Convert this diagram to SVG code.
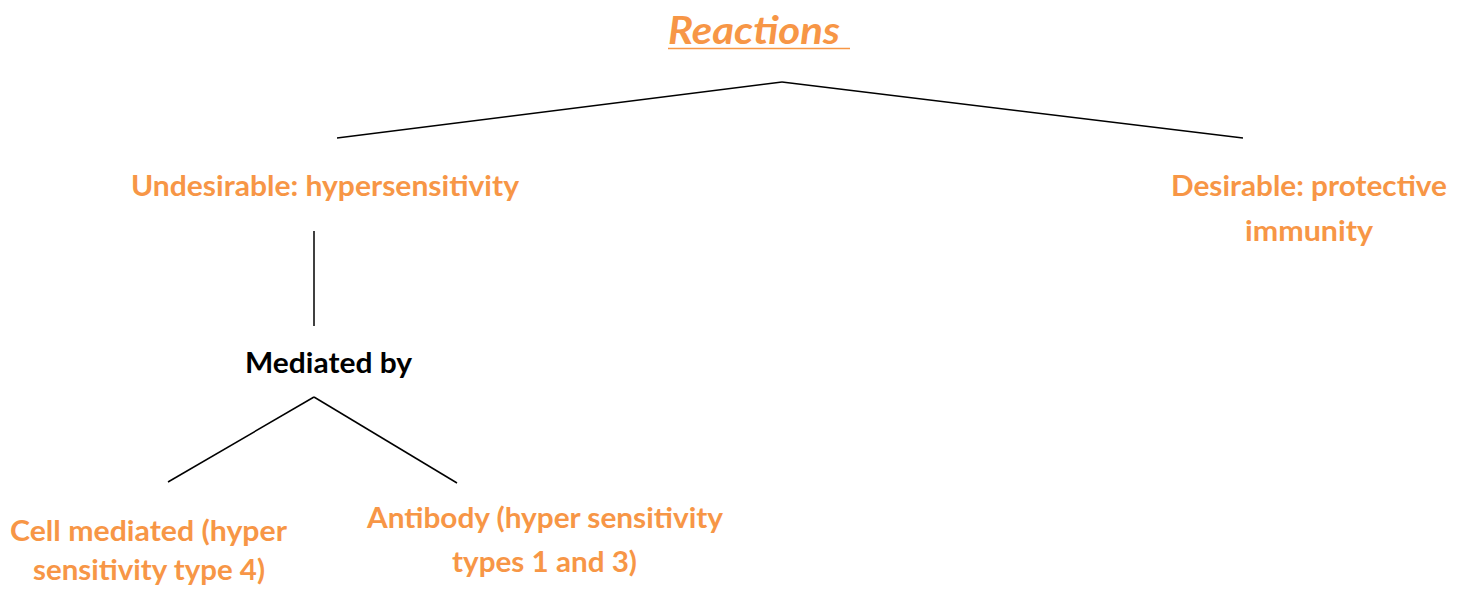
<svg xmlns="http://www.w3.org/2000/svg" width="1466" height="592" viewBox="0 0 1466 592">
<style>
.t{font-family:Lato,"Open Sans","Liberation Sans",sans-serif;font-weight:bold;font-size:28px;fill:#F79646;text-anchor:middle}
.k{fill:#000}
.big{font-size:39px;font-style:italic}
.s{font-size:29px}
.c line{stroke:#000;stroke-width:1.5}
</style>
<rect width="1466" height="592" fill="#fff"/>
<g id="reactions">
<text class="t big" x="754" y="44" textLength="172" lengthAdjust="spacingAndGlyphs">Reactions</text>
<line x1="668" y1="48.5" x2="850" y2="48.5" stroke="#F79646" stroke-width="1.5"/>
</g>
<g id="undesirable"><text class="t" x="325" y="196" textLength="388" lengthAdjust="spacingAndGlyphs">Undesirable: hypersensitivity</text></g>
<g id="desirable">
<text class="t" x="1309" y="196" textLength="276" lengthAdjust="spacingAndGlyphs">Desirable: protective</text>
<text class="t" x="1309" y="241" textLength="128" lengthAdjust="spacingAndGlyphs">immunity</text>
</g>
<g id="mediated"><text class="t k" x="328.5" y="373" textLength="167" lengthAdjust="spacingAndGlyphs">Mediated by</text></g>
<g id="cell">
<text class="t s" x="148.5" y="541" textLength="277" lengthAdjust="spacingAndGlyphs">Cell mediated (hyper</text>
<text class="t s" x="149" y="580" textLength="232" lengthAdjust="spacingAndGlyphs">sensitivity type 4)</text>
</g>
<g id="antibody">
<text class="t s" x="545" y="528" textLength="356" lengthAdjust="spacingAndGlyphs">Antibody (hyper sensitivity</text>
<text class="t s" x="544.5" y="572" textLength="185" lengthAdjust="spacingAndGlyphs">types 1 and 3)</text>
</g>
<g id="connectors" class="c">
<line x1="337" y1="138" x2="782" y2="82"/>
<line x1="782" y1="82" x2="1243" y2="138"/>
<line x1="314" y1="231" x2="314" y2="326"/>
<line x1="168" y1="482" x2="314" y2="397"/>
<line x1="314" y1="397" x2="457" y2="483"/>
</g>
</svg>
